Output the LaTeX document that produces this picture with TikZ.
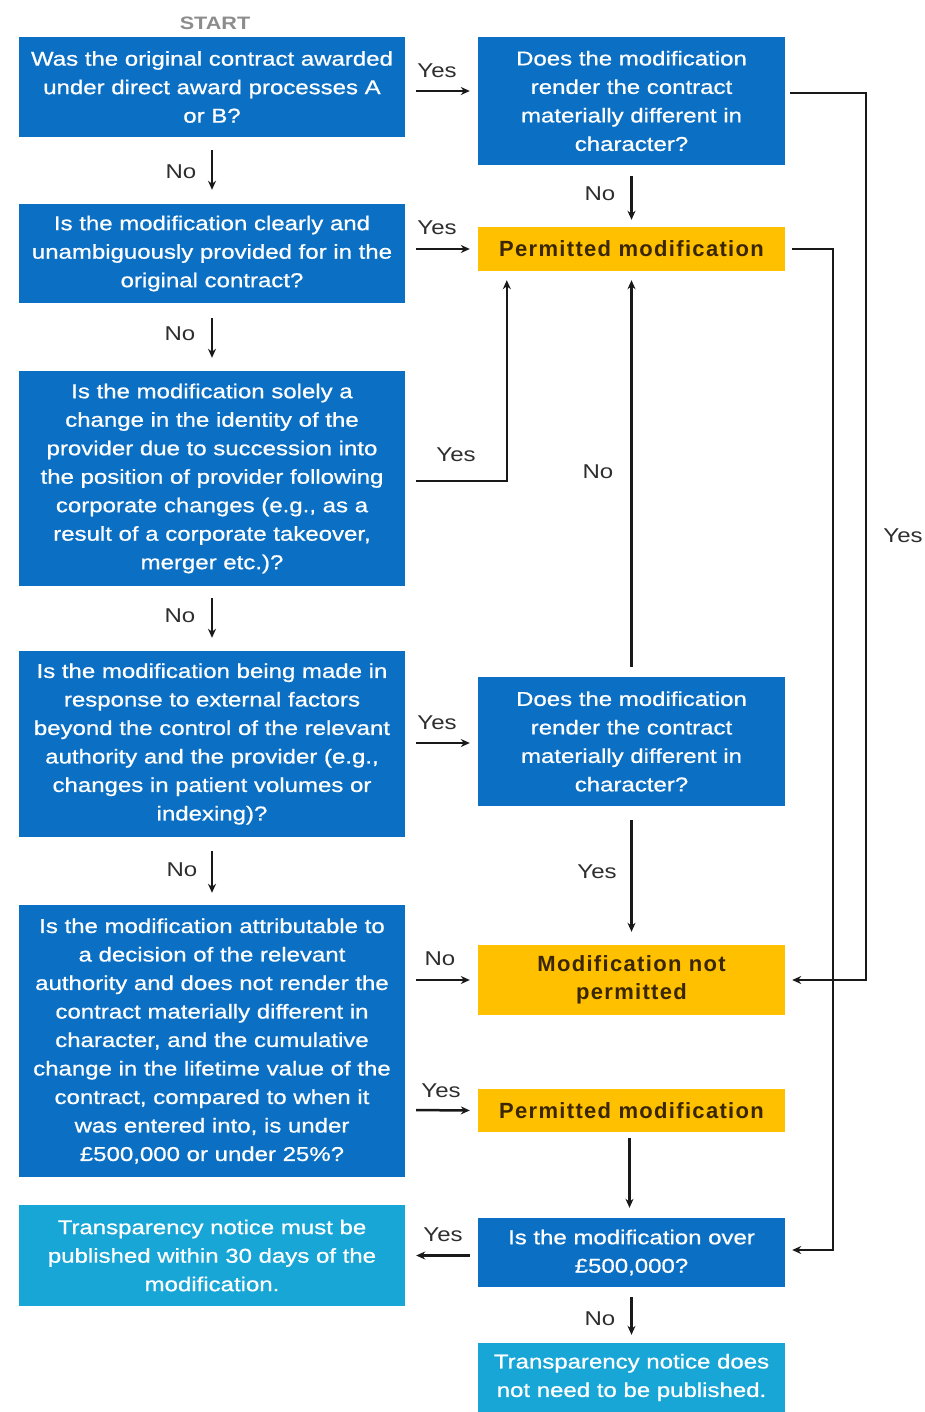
\documentclass[tikz,border=0pt]{standalone}
\usepackage{fontspec}
\setmainfont{Liberation Sans}
\newfontfamily\widefont{Liberation Sans}[FakeStretch=1.2]
\newfontfamily\boxfont{Liberation Sans}[FakeStretch=1.2,FakeBold=0.8]
\newfontfamily\yfont{Liberation Sans}[LetterSpace=6]
\usetikzlibrary{arrows.meta,calc}
\definecolor{qblue}{HTML}{0B6FC4}
\definecolor{qyellow}{HTML}{FFC000}
\definecolor{qcyan}{HTML}{18A6D6}
\definecolor{qlabel}{HTML}{2E2E2E}
\definecolor{qdark}{HTML}{3A2600}
\tikzset{
  box/.style={rectangle, inner sep=0pt, align=center, font=\boxfont\fontsize{20}{28.5}\selectfont},
  qbox/.style={box, fill=qblue, text=white},
  cbox/.style={box, fill=qcyan, text=white},
  ybox/.style={box, fill=qyellow, text=qdark, font=\yfont\fontsize{22}{28.5}\selectfont\bfseries},
  lbl/.style={text=qlabel, font=\widefont\fontsize{20}{22}\selectfont, inner sep=0pt},
  arr/.style={draw=black!90, line width=2.5pt, -{Stealth[length=9pt,width=8pt]}},
}
\begin{document}
\begin{tikzpicture}[x=1pt,y=-1pt]
\useasboundingbox (0,0) rectangle (924,1412);
\node[text=black!45, font=\widefont\fontsize{18}{20}\selectfont\bfseries, inner sep=0pt] (start) at (215,23) {START};
% left column
\node[qbox, minimum width=386pt, minimum height=100pt, text width=380pt] (B1) at (212,87)
  {Was the original contract awarded\\under direct award processes A\\or B?};
\node[qbox, minimum width=386pt, minimum height=99pt, text width=380pt] (B2) at (212,253.5)
  {Is the modification clearly and\\unambiguously provided for in the\\original contract?};
\node[qbox, minimum width=386pt, minimum height=215pt, text width=380pt] (B3) at (212,478.5)
  {Is the modification solely a\\change in the identity of the\\provider due to succession into\\the position of provider following\\corporate changes (e.g., as a\\result of a corporate takeover,\\merger etc.)?};
\node[qbox, minimum width=386pt, minimum height=186pt, text width=380pt] (B4) at (212,744)
  {Is the modification being made in\\response to external factors\\beyond the control of the relevant\\authority and the provider (e.g.,\\changes in patient volumes or\\indexing)?};
\node[qbox, minimum width=386pt, minimum height=272pt, text width=380pt] (B5) at (212,1041)
  {Is the modification attributable to\\a decision of the relevant\\authority and does not render the\\contract materially different in\\character, and the cumulative\\change in the lifetime value of the\\contract, compared to when it\\was entered into, is under\\£500,000 or under 25\%?};
\node[cbox, minimum width=386pt, minimum height=101pt, text width=380pt] (B6) at (212,1255.5)
  {Transparency notice must be\\published within 30 days of the\\modification.};
% right column
\node[qbox, minimum width=307pt, minimum height=128pt, text width=300pt] (R1) at (631.5,101)
  {Does the modification\\render the contract\\materially different in\\character?};
\node[ybox, minimum width=307pt, minimum height=44pt, text width=300pt] (P1) at (631.5,249)
  {Permitted modification};
\node[qbox, minimum width=307pt, minimum height=129pt, text width=300pt] (R2) at (631.5,741.5)
  {Does the modification\\render the contract\\materially different in\\character?};
\node[ybox, minimum width=307pt, minimum height=70pt, text width=300pt] (NP) at (631.5,980)
  {Modification not\\permitted};
\node[ybox, minimum width=307pt, minimum height=43pt, text width=300pt] (P2) at (631.5,1110.5)
  {Permitted modification};
\node[qbox, minimum width=307pt, minimum height=69pt, text width=300pt] (R3) at (631.5,1252.5)
  {Is the modification over\\£500,000?};
\node[cbox, minimum width=307pt, minimum height=69pt, text width=300pt] (R4) at (631.5,1377.5)
  {Transparency notice does\\not need to be published.};
% connectors
\draw[arr, shorten <=11pt, shorten >=8pt] ($(B1.east)+(0,4)$) -- ($(R1.west)+(0,-10)$);
\node[lbl] (y1) at (437,71) {Yes};
\draw[arr, shorten <=13pt, shorten >=14pt] (B1.south) -- (B2.north);
\node[lbl] (n1) at (181,172) {No};
\draw[arr, shorten <=11pt, shorten >=8pt] ($(B2.east)+(0,-4.5)$) -- (P1.west);
\node[lbl] (y2) at (437,228) {Yes};
\draw[arr, shorten <=11pt, shorten >=7pt] (R1.south) -- (P1.north);
\node[lbl] (n2) at (600,194) {No};
\draw[arr, shorten <=15pt, shorten >=13pt] (B2.south) -- (B3.north);
\node[lbl] (n3) at (180,334) {No};
\draw[arr, shorten <=11pt, shorten >=9pt] ($(B3.east)+(0,2.5)$) -| ($(P1.south west)+(29,0)$);
\node[lbl] (y3) at (456,455) {Yes};
\draw[arr, shorten <=10pt, shorten >=9pt] (R2.north) -- (P1.south);
\node[lbl] (n4) at (598,472) {No};
\draw[arr, shorten <=12pt, shorten >=13pt] (B3.south) -- (B4.north);
\node[lbl] (n5) at (180,616) {No};
\draw[arr, shorten <=11pt, shorten >=8pt] ($(B4.east)+(0,-1)$) -- ($(R2.west)+(0,1.5)$);
\node[lbl] (y4) at (437,723) {Yes};
\draw[arr, shorten <=14pt, shorten >=13pt] (R2.south) -- (NP.north);
\node[lbl] (y5) at (597,872) {Yes};
\draw[arr, shorten <=14pt, shorten >=12pt] (B4.south) -- (B5.north);
\node[lbl] (n6) at (182,870) {No};
\draw[arr, shorten <=11pt, shorten >=8pt] ($(B5.east)+(0,-61)$) -- (NP.west);
\node[lbl] (n7) at (440,959) {No};
\draw[arr, shorten <=11pt, shorten >=8pt] ($(B5.east)+(0,69)$) -- (P2.west);
\node[lbl] (y6) at (441,1091) {Yes};
\draw[arr, shorten <=6pt, shorten >=10pt] ($(P2.south)+(-2,0)$) -- ($(R3.north)+(-2,0)$);
\draw[arr, shorten <=8pt, shorten >=11pt] ($(R3.west)+(0,3)$) -- (B6.east);
\node[lbl] (y7) at (443,1235) {Yes};
\draw[arr, shorten <=10pt, shorten >=8pt] (R3.south) -- (R4.north);
\node[lbl] (n8) at (600,1319) {No};
\draw[arr, shorten <=5pt, shorten >=7pt] ($(R1.east)+(0,-8)$) -- ++(81,0) |- (NP.east);
\node[lbl] (y8) at (903,536) {Yes};
\draw[arr, shorten <=7pt, shorten >=7pt] (P1.east) -- ++(48,0) |- ($(R3.east)+(0,-2.5)$);
\end{tikzpicture}
\end{document}
